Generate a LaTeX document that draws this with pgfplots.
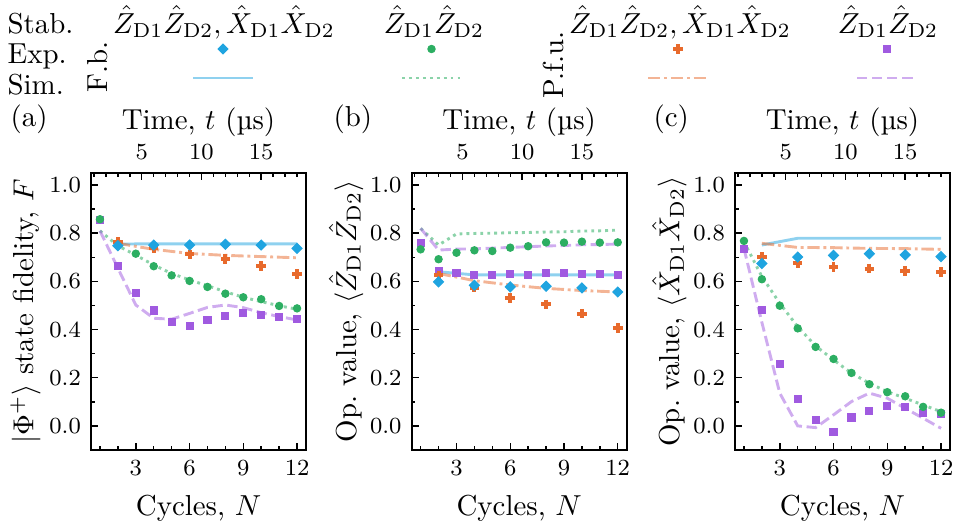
\documentclass[border=0pt]{standalone}
\usepackage{pgfplots}
\pgfplotsset{compat=1.18}
\definecolor{cD}{RGB}{31,164,224}
\definecolor{cC}{RGB}{44,174,98}
\definecolor{cP}{RGB}{232,106,44}
\definecolor{cS}{RGB}{160,90,224}
\pgfplotsset{
  panel/.style={scale only axis, width=74.40pt, height=95.85pt,
    xmin=0.5, xmax=12.5, ymin=-0.1, ymax=1.05,
    xtick={3,6,9,12}, minor xtick={1,2,4,5,7,8,10,11},
    ytick={0,0.2,0.4,0.6,0.8,1.0}, minor ytick={0.1,0.3,0.5,0.7,0.9},
    xtick pos=bottom, ytick pos=left, tick align=inside,
    major tick length=2.4pt, minor tick length=1.3pt,
    tick style={black, line width=0.5pt}, axis line style={line width=0.6pt},
    yticklabel style={/pgf/number format/fixed, /pgf/number format/fixed zerofill, /pgf/number format/precision=1},
    ticklabel style={font=\footnotesize},
    every axis y label/.style={at={(axis description cs:-0.305,0.5)}, rotate=90, anchor=center},
    xlabel={Cycles, $N$}},
  topaxis/.style={scale only axis, width=74.40pt, height=95.85pt,
    xmin=0.75, xmax=18.75, ymin=0, ymax=1,
    axis x line*=top, axis y line=none, ytick=\empty,
    xtick={5,10,15}, minor xtick={1,2,3,4,6,7,8,9,11,12,13,14,16,17,18},
    tick align=inside, major tick length=2.4pt, minor tick length=1.3pt,
    tick style={black, line width=0.5pt}, axis line style={line width=0.6pt},
    ticklabel style={font=\footnotesize},
    xticklabel style={yshift=1.2pt},
    xlabel style={at={(axis description cs:0.5,1)}, anchor=base, yshift=14.9pt},
    xlabel={Time, $t$ (µs)}},
  mD/.style={only marks, mark=square*, mark size=1.2pt, color=cD, mark options={rotate=45}},
  mC/.style={only marks, mark=*, mark size=1.25pt, color=cC},
  mS/.style={only marks, mark=square*, mark size=1.2pt, color=cS},
  mP/.style={only marks, mark=+, mark size=1.65pt, color=cP, mark options={line width=1.35pt}},
  lD/.style={no marks, cD, opacity=0.5, line width=1pt},
  lC/.style={no marks, cC, opacity=0.55, line width=1pt, dash pattern=on 1pt off 1.4pt},
  lP/.style={no marks, cP, opacity=0.5, line width=1pt, dash pattern=on 4.3pt off 1.3pt on 1pt off 1.3pt},
  lS/.style={no marks, cS, opacity=0.5, line width=1pt, dash pattern=on 3.6pt off 1.6pt},
}
\begin{document}
\begin{tikzpicture}
\useasboundingbox (0,0) rectangle (331.5pt,180.28pt);
% legend / labels overlay in pixel coordinates
\begin{axis}[at={(0pt,0pt)}, anchor=south west, scale only axis, width=331.5pt, height=180.28pt,
  xmin=0, xmax=958, ymin=0, ymax=521, y dir=reverse, hide axis, clip=false]
\addplot[mD] coordinates {(223,49)};
\addplot[mC] coordinates {(431.5,49)};
\addplot[mP] coordinates {(678,49)};
\addplot[mS] coordinates {(887,49)};
\addplot[lD] coordinates {(193,78) (253,78)};
\addplot[lC] coordinates {(402,78) (462,78)};
\addplot[lP] coordinates {(648,78) (708,78)};
\addplot[lS] coordinates {(857,78) (917,78)};
\node[anchor=base west, inner sep=0] at (axis cs:7,33) {Stab.};
\node[anchor=base west, inner sep=0] at (axis cs:7,63) {Exp.};
\node[anchor=base west, inner sep=0] at (axis cs:7,94) {Sim.};
\node[anchor=base, inner sep=0] at (axis cs:224,33) {$\hat{Z}_{\mathrm{D1}}\hat{Z}_{\mathrm{D2}}, \hat{X}_{\mathrm{D1}}\hat{X}_{\mathrm{D2}}$};
\node[anchor=base, inner sep=0] at (axis cs:434,33) {$\hat{Z}_{\mathrm{D1}}\hat{Z}_{\mathrm{D2}}$};
\node[anchor=base, inner sep=0] at (axis cs:680,33) {$\hat{Z}_{\mathrm{D1}}\hat{Z}_{\mathrm{D2}}, \hat{X}_{\mathrm{D1}}\hat{X}_{\mathrm{D2}}$};
\node[anchor=base, inner sep=0] at (axis cs:888,33) {$\hat{Z}_{\mathrm{D1}}\hat{Z}_{\mathrm{D2}}$};
\node[rotate=90, inner sep=0] at (axis cs:97.5,66.5) {F.b.};
\node[rotate=90, inner sep=0] at (axis cs:553,65) {P.f.u.};
\node[anchor=west, inner sep=0] at (axis cs:10,119) {(a)};
\node[anchor=west, inner sep=0] at (axis cs:333,119) {(b)};
\node[anchor=west, inner sep=0] at (axis cs:653,119) {(c)};
\end{axis}

% ---------- panel (a)
\begin{axis}[panel, at={(31.49pt,24.57pt)}, anchor=south west,
  ylabel={$|\Phi^+\rangle$ state fidelity, $F$}]
\addplot[lD] coordinates {(2,0.755)(4,0.756)(6,0.756)(8,0.756)(10,0.756)(12,0.756)};
\addplot[lP] coordinates {(2,0.758)(4,0.733)(6,0.716)(8,0.708)(10,0.703)(12,0.698)};
\addplot[lC] coordinates {(1,0.810)(2,0.748)(3,0.709)(4,0.668)(5,0.633)(6,0.606)(7,0.582)(8,0.557)(9,0.534)(10,0.516)(11,0.499)(12,0.484)};
\addplot[lS] coordinates {(1,0.810)(2,0.655)(3,0.502)(4,0.447)(5,0.443)(6,0.467)(7,0.492)(8,0.502)(9,0.491)(10,0.470)(11,0.454)(12,0.440)};
\addplot[mS] coordinates {(1,0.855)(2,0.663)(3,0.552)(4,0.479)(5,0.432)(6,0.415)(7,0.440)(8,0.458)(9,0.469)(10,0.461)(11,0.452)(12,0.443)};
\addplot[mC] coordinates {(1,0.858)(2,0.758)(3,0.715)(4,0.663)(5,0.625)(6,0.602)(7,0.577)(8,0.549)(9,0.534)(10,0.526)(11,0.498)(12,0.488)};
\addplot[mP] coordinates {(2,0.763)(4,0.737)(6,0.712)(8,0.694)(10,0.665)(12,0.631)};
\addplot[mD] coordinates {(2,0.748)(4,0.751)(6,0.751)(8,0.754)(10,0.751)(12,0.737)};
\end{axis}
\begin{axis}[topaxis, at={(31.49pt,24.57pt)}, anchor=south west]
\end{axis}

% ---------- panel (b)
\begin{axis}[panel, at={(142.46pt,24.57pt)}, anchor=south west,
  ylabel={Op.\ value, $\langle\hat{Z}_{\mathrm{D1}}\hat{Z}_{\mathrm{D2}}\rangle$}]
\addplot[lD] coordinates {(2,0.640)(4,0.627)(6,0.627)(8,0.627)(10,0.627)(12,0.627)};
\addplot[lP] coordinates {(2,0.633)(4,0.603)(6,0.585)(8,0.571)(10,0.562)(12,0.556)};
\addplot[lC] coordinates {(1,0.820)(2,0.751)(3,0.797)(4,0.799)(5,0.800)(6,0.802)(7,0.803)(8,0.805)(9,0.806)(10,0.809)(11,0.810)(12,0.813)};
\addplot[lS] coordinates {(1,0.820)(2,0.730)(3,0.734)(4,0.735)(5,0.738)(6,0.741)(7,0.744)(8,0.747)(9,0.749)(10,0.752)(11,0.753)(12,0.755)};
\addplot[mS] coordinates {(1,0.758)(2,0.643)(3,0.636)(4,0.627)(5,0.627)(6,0.631)(7,0.625)(8,0.633)(9,0.636)(10,0.631)(11,0.631)(12,0.627)};
\addplot[mC] coordinates {(1,0.733)(2,0.692)(3,0.719)(4,0.729)(5,0.726)(6,0.740)(7,0.746)(8,0.762)(9,0.761)(10,0.765)(11,0.761)(12,0.762)};
\addplot[mP] coordinates {(2,0.625)(4,0.574)(6,0.531)(8,0.505)(10,0.466)(12,0.407)};
\addplot[mD] coordinates {(2,0.598)(4,0.584)(6,0.577)(8,0.580)(10,0.573)(12,0.556)};
\end{axis}
\begin{axis}[topaxis, at={(142.46pt,24.57pt)}, anchor=south west]
\end{axis}

% ---------- panel (c)
\begin{axis}[panel, at={(254.33pt,24.57pt)}, anchor=south west,
  ylabel={Op.\ value, $\langle\hat{X}_{\mathrm{D1}}\hat{X}_{\mathrm{D2}}\rangle$}]
\addplot[lD] coordinates {(2,0.751)(4,0.779)(6,0.779)(8,0.779)(10,0.779)(12,0.779)};
\addplot[lP] coordinates {(2,0.758)(4,0.741)(6,0.740)(8,0.737)(10,0.736)(12,0.733)};
\addplot[lC] coordinates {(1,0.765)(2,0.620)(3,0.509)(4,0.412)(5,0.332)(6,0.274)(7,0.219)(8,0.177)(9,0.142)(10,0.115)(11,0.087)(12,0.059)};
\addplot[lS] coordinates {(1,0.737)(2,0.430)(3,0.136)(4,0.000)(5,-0.007)(6,0.046)(7,0.101)(8,0.136)(9,0.115)(10,0.073)(11,0.032)(12,-0.010)};
\addplot[mS] coordinates {(1,0.734)(2,0.480)(3,0.257)(4,0.111)(5,0.024)(6,-0.026)(7,0.035)(8,0.062)(9,0.082)(10,0.079)(11,0.055)(12,0.048)};
\addplot[mC] coordinates {(1,0.768)(2,0.609)(3,0.499)(4,0.405)(5,0.328)(6,0.278)(7,0.220)(8,0.173)(9,0.140)(10,0.123)(11,0.079)(12,0.055)};
\addplot[mP] coordinates {(2,0.701)(4,0.676)(6,0.660)(8,0.653)(10,0.643)(12,0.638)};
\addplot[mD] coordinates {(2,0.674)(4,0.701)(6,0.708)(8,0.715)(10,0.710)(12,0.703)};
\end{axis}
\begin{axis}[topaxis, at={(254.33pt,24.57pt)}, anchor=south west]
\end{axis}
\end{tikzpicture}
\end{document}
